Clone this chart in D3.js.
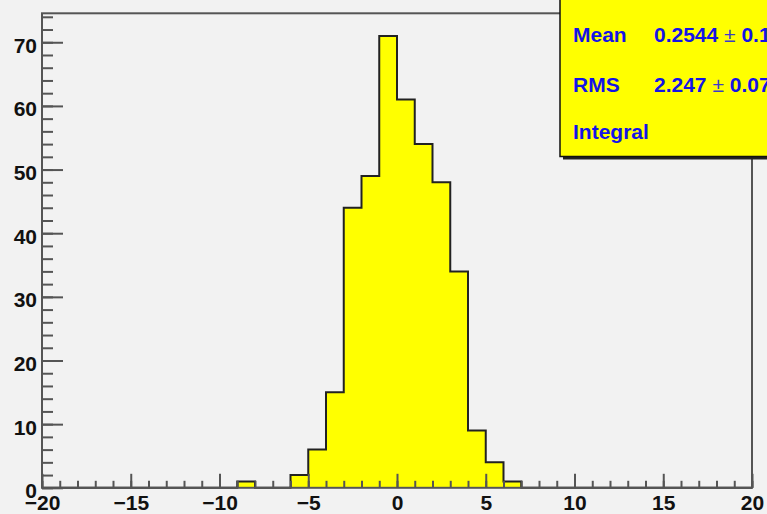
<!DOCTYPE html>
<html><head><meta charset="utf-8">
<script src="https://cdn.jsdelivr.net/npm/d3@7"></script>
<style>
html,body{margin:0;padding:0;background:#f2f2f2;}
svg{display:block;}
text{font-family:"Liberation Sans",Arial,Helvetica,sans-serif;font-weight:bold;}
</style></head>
<body>
<svg id="c" width="767" height="514"></svg>
<script>
// ---- data ----
const binLow = d3.range(-20, 20, 1); // 40 bins of width 1, from -20 to 20
const binCounts = [0,0,0,0,0,0,0,0,0,0,0, 1, 0,0, 2,6,15,44,49,71,61,54,48,34,9,4,1, 0,0,0,0,0,0,0,0,0,0,0,0,0];
const binWidth = 1;
const xTickLabels = [-20,-15,-10,-5,0,5,10,15,20];
const yTickLabels = [0,10,20,30,40,50,60,70];
const statNames = ["Mean","RMS","Integral"];
const statValues = [["0.2544","0.1125"],["2.247","0.0795"],["399"]];
const xDomain = [-20, 20];
const yMax = 74.55;

// ---- layout ----
const W = 767, H = 514;
const m = {left:42, right:15, top:13.3, bottom:26.2};
const svg = d3.select("#c");
const x = d3.scaleLinear().domain(xDomain).range([m.left, W - m.right]);
const y = d3.scaleLinear().domain([0, yMax]).range([H - m.bottom, m.top]);
const axisColor = "#555";
const fs = "21px";

// histogram
const pts = [[binLow[0], 0]];
binLow.forEach((lo, i) => { pts.push([lo, binCounts[i]]); pts.push([lo + binWidth, binCounts[i]]); });
pts.push([binLow[binLow.length-1] + binWidth, 0]);
svg.append("path")
  .attr("d", d3.area().x(d => x(d[0])).y0(y(0)).y1(d => y(d[1]))(pts))
  .attr("fill", "#ffff00");
svg.append("path")
  .attr("d", d3.line().x(d => x(d[0])).y(d => y(d[1]))(pts))
  .attr("fill", "none").attr("stroke", "#222").attr("stroke-width", 2);

// frame
svg.append("rect").attr("x", x(-20)).attr("y", y(yMax)).attr("width", x(20)-x(-20)).attr("height", y(0)-y(yMax))
  .attr("fill", "none").attr("stroke", axisColor).attr("stroke-width", 2);

// x axis
const gxMinor = svg.append("g").attr("transform", `translate(0,${y(0)})`)
  .call(d3.axisBottom(x).tickValues(d3.range(-20, 21, 1)).tickSizeInner(-7).tickSizeOuter(0).tickFormat(""));
const gx = svg.append("g").attr("transform", `translate(0,${y(0)})`)
  .call(d3.axisBottom(x).tickValues(xTickLabels).tickSizeInner(-14).tickSizeOuter(0).tickPadding(7).tickFormat(d3.format("d")));
// y axis
const gyMinor = svg.append("g").attr("transform", `translate(${x(-20)},0)`)
  .call(d3.axisLeft(y).tickValues(d3.range(0, 75, 2)).tickSizeInner(-11).tickSizeOuter(0).tickFormat(""));
const gy = svg.append("g").attr("transform", `translate(${x(-20)},0)`)
  .call(d3.axisLeft(y).tickValues(yTickLabels).tickSizeInner(-21).tickSizeOuter(0).tickPadding(5).tickFormat(d3.format("d")));
[gxMinor, gx, gyMinor, gy].forEach(g => {
  g.select(".domain").remove();
  g.selectAll("line").attr("stroke", axisColor).attr("stroke-width", 2);
  g.selectAll("text").attr("fill", "#111").style("font-size", fs).attr("font-family", null);
});
gy.selectAll("text").attr("dy", "0.47em");

// stats box
const bx = 560, by = -4, bw = 260, bh = 160.5;
svg.append("rect").attr("x", bx+3).attr("y", by+3).attr("width", bw).attr("height", bh).attr("fill", "#222");
svg.append("rect").attr("x", bx).attr("y", by).attr("width", bw).attr("height", bh)
  .attr("fill", "#ffff00").attr("stroke", "#111").attr("stroke-width", 1.5);
const rowsY = [41.7, 92.3, 139.3];
statNames.forEach((n, i) => {
  svg.append("text").attr("x", 573).attr("y", rowsY[i]).attr("fill", "#1414e6").style("font-size", fs).text(n);
  const v = statValues[i];
  if (v.length === 2) {
    const t = svg.append("text").attr("x", 654).attr("y", rowsY[i]).attr("fill", "#1414e6").style("font-size", fs);
    t.append("tspan").text(v[0] + " ");
    t.append("tspan").style("font-weight", "normal").attr("fill", "#3c3cc8").text("\u00b1");
    t.append("tspan").text(" " + v[1]);
  } else {
    svg.append("text").attr("x", bx + bw - 10).attr("y", rowsY[i]).attr("text-anchor", "end")
      .attr("fill", "#1414e6").style("font-size", fs).text(v[0]);
  }
});
</script>
</body></html>
